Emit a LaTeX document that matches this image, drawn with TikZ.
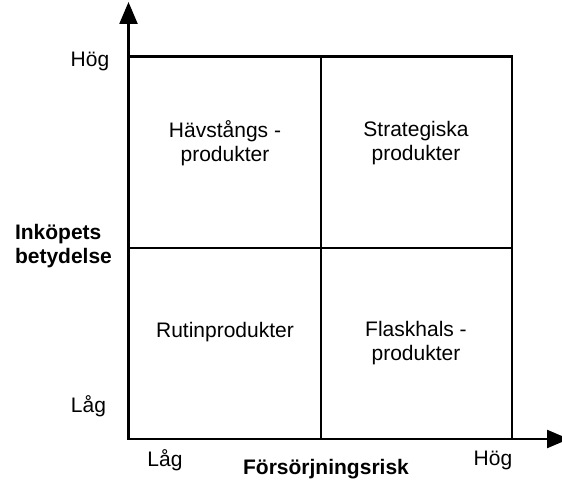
\documentclass[tikz,border=0pt]{standalone}
\usepackage{fontspec}
\setmainfont{Liberation Sans}
\usetikzlibrary{arrows.meta}
\begin{document}
\begin{tikzpicture}[x=1pt,y=-1pt,
  every node/.style={inner sep=0pt,outer sep=0pt},
  lbl/.style={font=\fontsize{21}{24}\selectfont},
  axislbl/.style={font=\fontsize{21}{24}\selectfont\bfseries},
  quad/.style={lbl,align=center},
  frame/.style={line width=2.3pt},
  axis/.style={line width=2.3pt,-{Triangle[length=22pt,width=18pt]}}]
\useasboundingbox (0,0) rectangle (562,484);

% axes
\coordinate (o) at (128.5,439);
\coordinate (ytip) at (128.5,2);
\coordinate (xtip) at (569,439);
\draw[axis] (o) -- (ytip);
\draw[axis] (o) -- (xtip);

% the 2x2 matrix
\coordinate (tl) at (128.5,56.5);
\coordinate (br) at (512,439);
\draw[frame] (tl) rectangle (br);
\coordinate (mt) at (321,56.5);
\coordinate (mb) at (321,439);
\coordinate (ml) at (128.5,248);
\coordinate (mr) at (512,248);
\draw[frame] (mt) -- (mb);
\draw[frame] (ml) -- (mr);

% quadrant labels
\node[quad] (hav) at (225,143.5) {Hävstångs -\\produkter};
\node[quad] (str) at (416,143.5) {Strategiska\\produkter};
\node[lbl,anchor=base] (rut) at (225,337) {Rutinprodukter};
\node[quad] (fla) at (416,343.5) {Flaskhals -\\produkter};

% scale labels
\node[lbl,anchor=base] (yhi) at (90,67) {Hög};
\node[lbl,anchor=base] (ylo) at (88.5,412) {Låg};
\node[lbl,anchor=base] (xlo) at (165,466) {Låg};
\node[lbl,anchor=base] (xhi) at (493,465) {Hög};

% axis titles
\node[axislbl,align=left,anchor=north west] (ytitle) at (15,224.5) {Inköpets\\betydelse};
\node[axislbl,anchor=base] (xtitle) at (326,474) {Försörjningsrisk};
\end{tikzpicture}
\end{document}
